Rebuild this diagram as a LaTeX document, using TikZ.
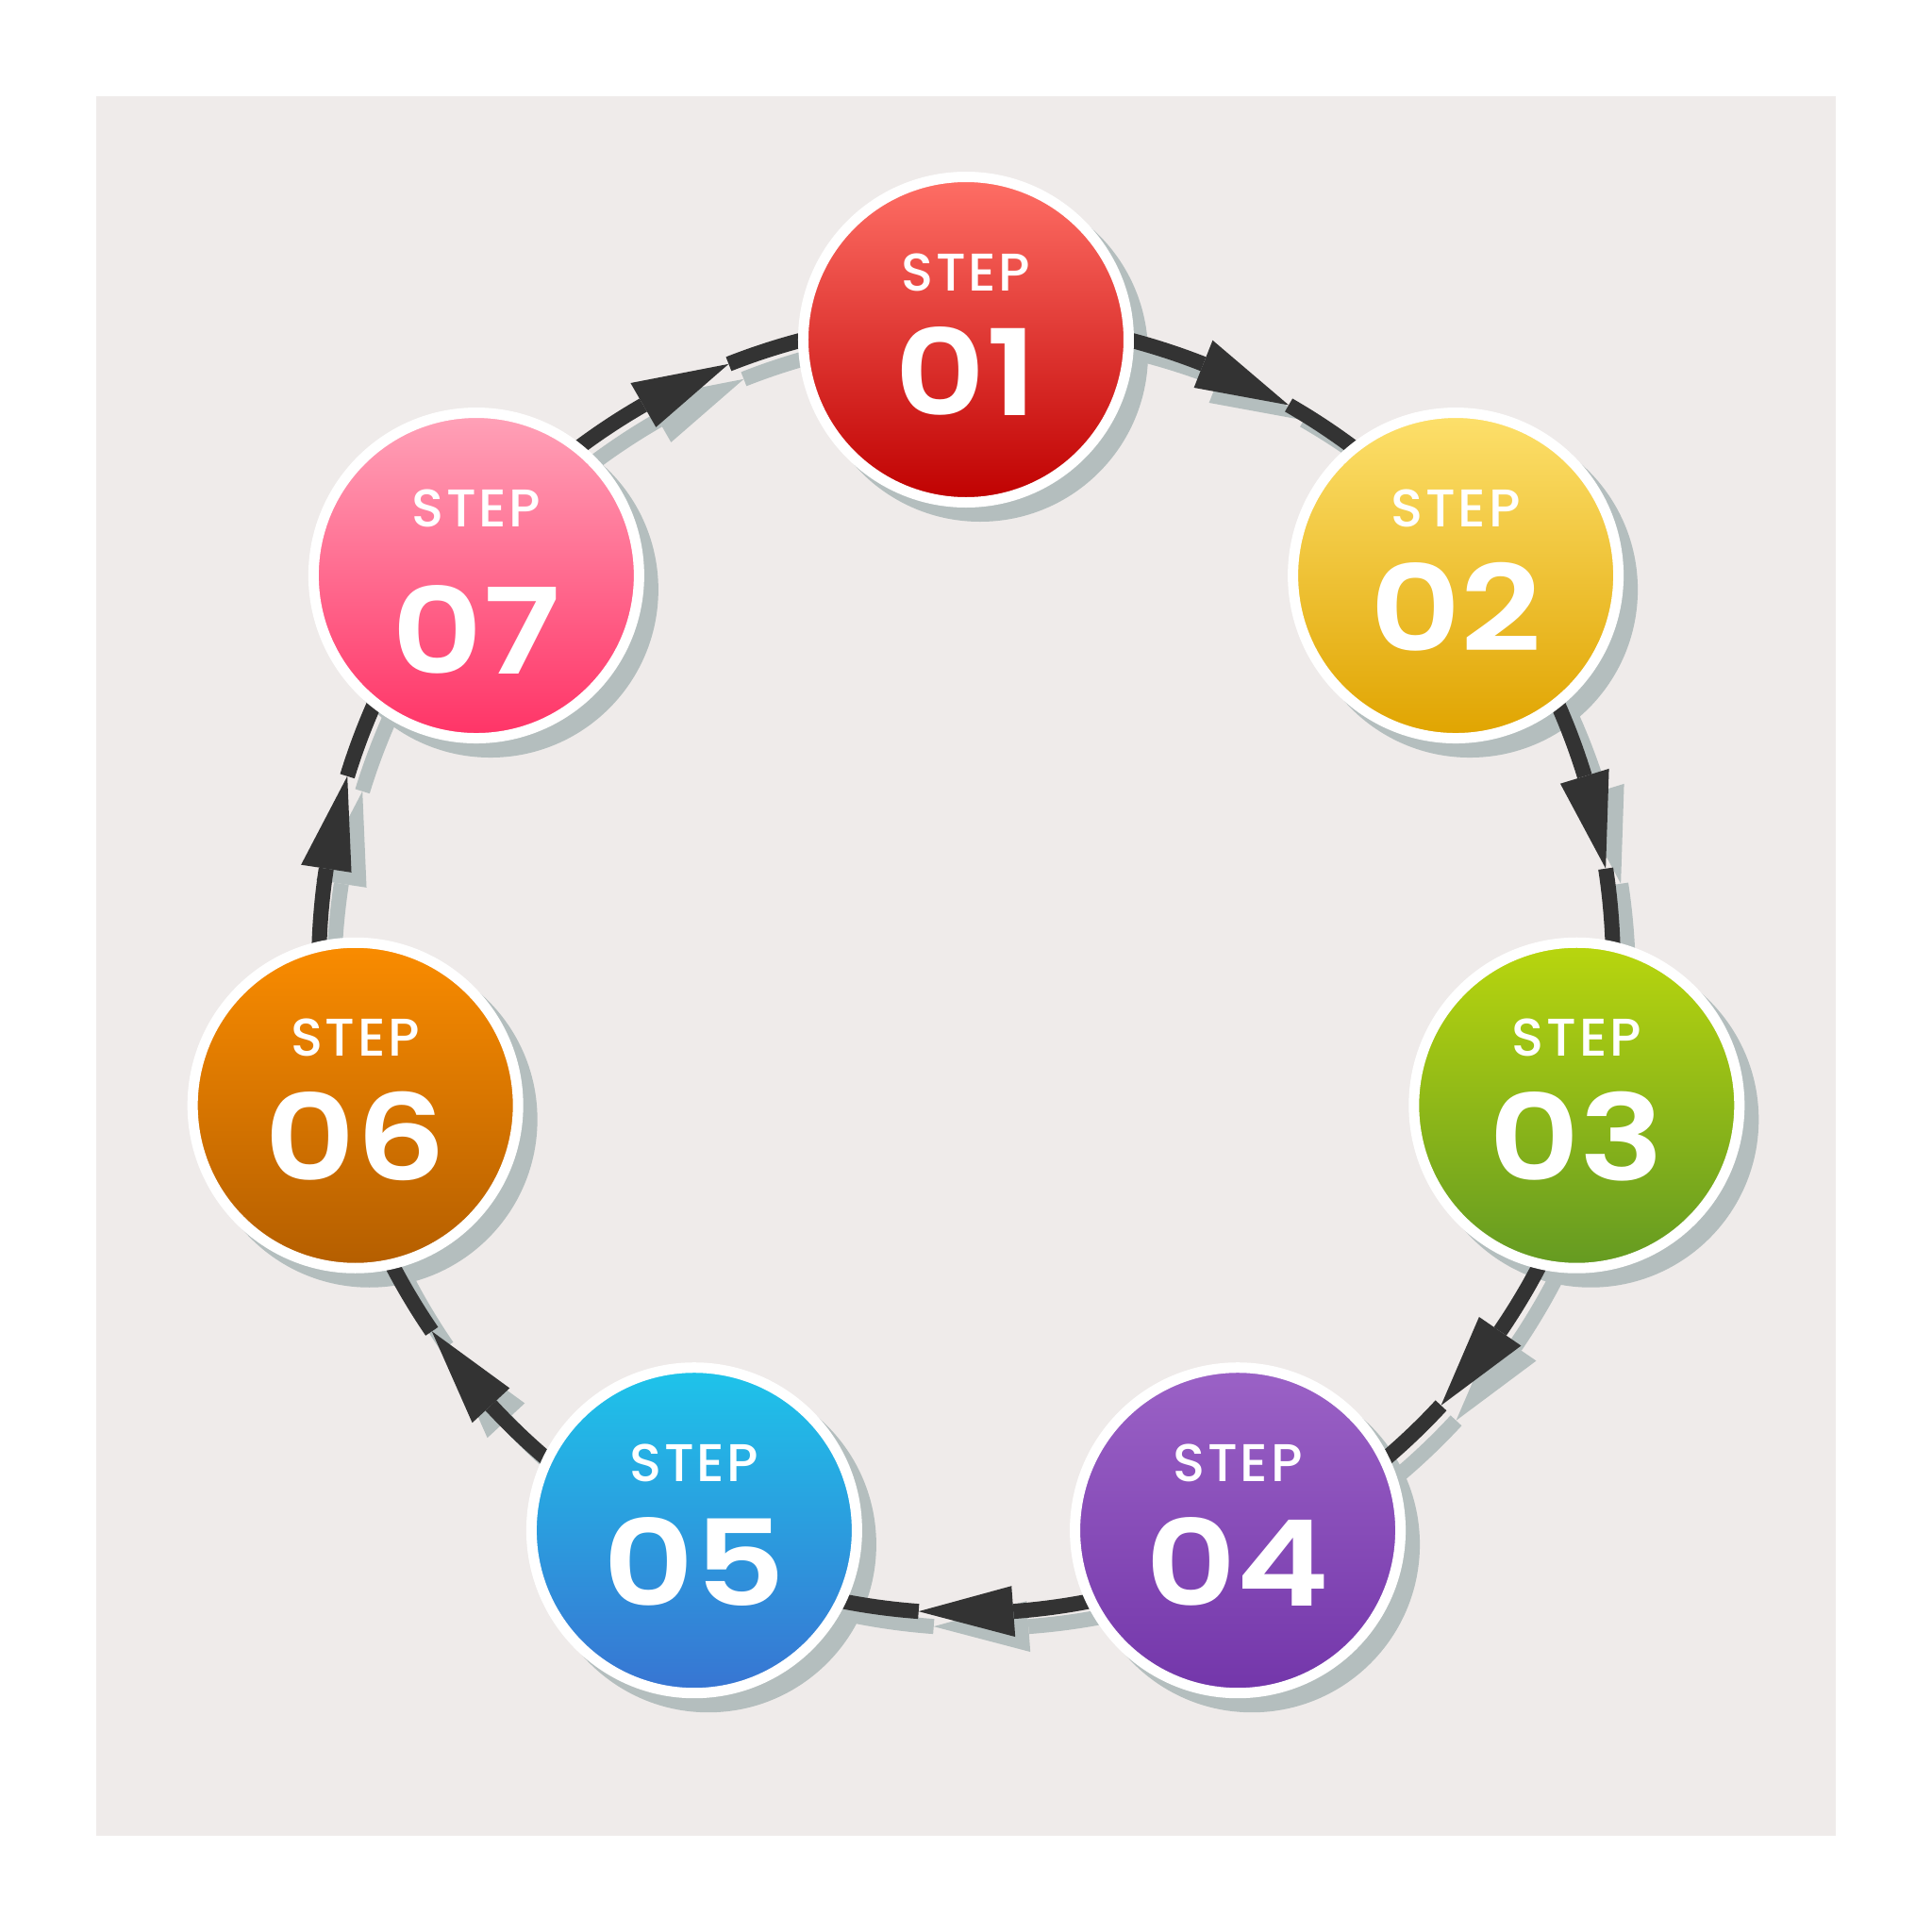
\documentclass[tikz,border=0pt]{standalone}
\usepackage{fontspec}
\setmainfont{Poppins}[UprightFont=* Medium, BoldFont=* SemiBold]
\newfontfamily\stepfont{Poppins}[UprightFont=* Medium, LetterSpace=5]
\newfontfamily\numfont{Poppins}[UprightFont=* SemiBold, FakeStretch=1.18]
\usetikzlibrary{calc}

% colours
\definecolor{bgc}{HTML}{EFEBEA}
\definecolor{shadowc}{HTML}{B4BEBE}
\definecolor{linkc}{HTML}{333333}
\definecolor{top1}{HTML}{FF6F66}\definecolor{bot1}{HTML}{BF0000}
\definecolor{top2}{HTML}{FDE06C}\definecolor{bot2}{HTML}{E0A400}
\definecolor{top3}{HTML}{B9D60E}\definecolor{bot3}{HTML}{649A22}
\definecolor{top4}{HTML}{9B62C6}\definecolor{bot4}{HTML}{7336AA}
\definecolor{top5}{HTML}{1EC4EA}\definecolor{bot5}{HTML}{3874D2}
\definecolor{top6}{HTML}{FA8C00}\definecolor{bot6}{HTML}{B45E00}
\definecolor{top7}{HTML}{FFA2B8}\definecolor{bot7}{HTML}{FF3366}

\tikzset{
  stepcircle/.style={circle, draw=white, line width=0.11cm, minimum size=3.45cm, inner sep=0pt},
  steptext/.style={text=white, inner sep=0pt, font=\stepfont\fontsize{16}{17}\selectfont},
  stepnum/.style={text=white, inner sep=0pt, font=\numfont\fontsize{36}{38}\selectfont},
}

% one connector from the step at angle #2 to the next one
\newcommand{\steplink}[2]{%
  \pgfmathsetmacro{\mb}{#2-180/7+4.2}
  \pgfmathsetmacro{\mt}{#2-180/7-4.2}
  \pgfmathsetmacro{\be}{#2-360/7}
  \draw[#1, line width=0.16cm] (#2:6.86) arc[start angle=#2, end angle=\mb, radius=6.86];
  \fill[#1] (\mb:6.59) -- (\mb:7.13) -- (\mt:6.86) -- cycle;
  \draw[#1, line width=0.16cm] (\mt:6.86) arc[start angle=\mt, end angle=\be, radius=6.86];
}

\begin{document}
\begin{tikzpicture}
\useasboundingbox (-10.24,-10.24) rectangle (10.24,10.24);
% Background
\fill[bgc] (-9.22,-9.22) rectangle (9.22,9.22);
\coordinate (c) at (0,0);

% Positions of the seven steps
\foreach \i in {1,...,7} {
  \pgfmathsetmacro{\ang}{90-(\i-1)*360/7}
  \coordinate (p\i) at ($(c)+(\ang:6.64)$);
}

% Shadows
\foreach \i in {1,...,7} {
  \pgfmathsetmacro{\ang}{90-(\i-1)*360/7}
  \fill[shadowc] ([shift={(0.15,-0.15)}]p\i) circle (1.78);
  \begin{scope}[shift={(0.16,-0.16)}]
    \steplink{shadowc}{\ang}
  \end{scope}
}

% Connectors
\foreach \i in {1,...,7} {
  \pgfmathsetmacro{\ang}{90-(\i-1)*360/7}
  \steplink{linkc}{\ang}
}

% Step circles
\foreach \i/\dy in {1/-0.33,2/-0.33,3/-0.33,4/-0.33,5/-0.33,6/-0.33,7/-0.575} {
  \node[stepcircle, top color=top\i, bottom color=bot\i] (s\i) at (p\i) {};
  \node[steptext] (t\i) at ([yshift=0.715cm]s\i.center) {STEP};
  \node[stepnum] (n\i) at ([yshift=\dy cm]s\i.center) {0\i};
}
\end{tikzpicture}
\end{document}
